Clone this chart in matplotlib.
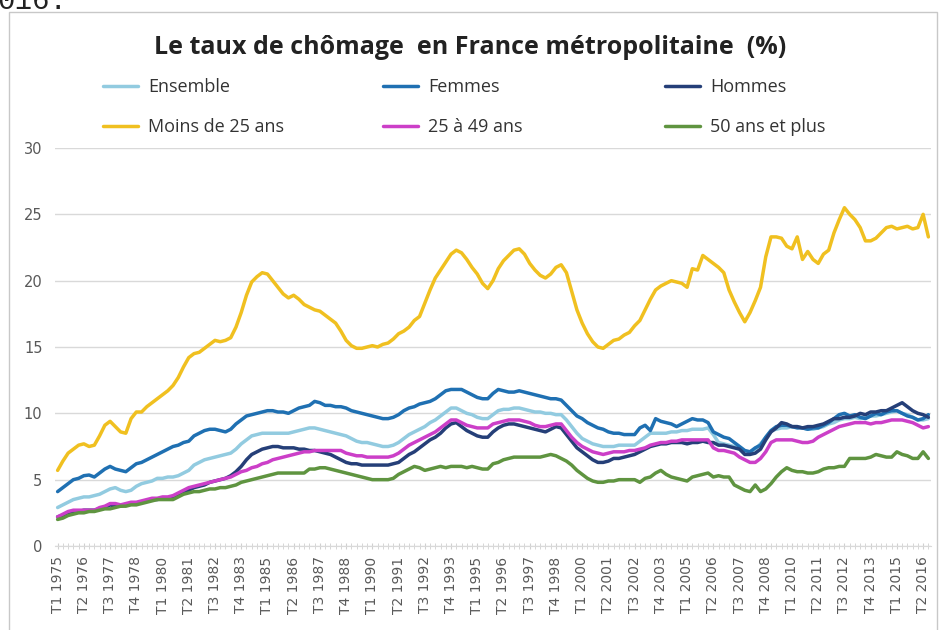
import matplotlib
matplotlib.use("Agg")
import matplotlib.pyplot as plt
from matplotlib.patches import Rectangle

# quarterly unemployment rates (%), T1 1975 .. T3 2016
ensemble = [
    2.9, 3.1, 3.3, 3.5, 3.6, 3.7, 3.7, 3.8, 3.9, 4.1,
    4.3, 4.4, 4.2, 4.1, 4.2, 4.5, 4.7, 4.8, 4.9, 5.1,
    5.1, 5.2, 5.2, 5.3, 5.5, 5.7, 6.1, 6.3, 6.5, 6.6,
    6.7, 6.8, 6.9, 7.0, 7.3, 7.7, 8.0, 8.3, 8.4, 8.5,
    8.5, 8.5, 8.5, 8.5, 8.5, 8.6, 8.7, 8.8, 8.9, 8.9,
    8.8, 8.7, 8.6, 8.5, 8.4, 8.3, 8.1, 7.9, 7.8, 7.8,
    7.7, 7.6, 7.5, 7.5, 7.6, 7.8, 8.1, 8.4, 8.6, 8.8,
    9.0, 9.3, 9.5, 9.8, 10.1, 10.4, 10.4, 10.2, 10.0, 9.9,
    9.7, 9.6, 9.6, 9.9, 10.2, 10.3, 10.3, 10.4, 10.4, 10.3,
    10.2, 10.1, 10.1, 10.0, 10.0, 9.9, 9.9, 9.5, 9.0, 8.5,
    8.1, 7.9, 7.7, 7.6, 7.5, 7.5, 7.5, 7.6, 7.6, 7.6,
    7.6, 7.9, 8.2, 8.5, 8.5, 8.5, 8.5, 8.6, 8.6, 8.7,
    8.7, 8.8, 8.8, 8.8, 8.9, 8.4, 7.8, 7.7, 7.6, 7.5,
    7.3, 7.0, 7.1, 7.3, 7.7, 8.2, 8.7, 8.8, 8.9, 8.9,
    9.0, 9.0, 8.9, 8.8, 8.8, 8.9, 9.0, 9.2, 9.3, 9.5,
    9.6, 9.6, 9.7, 9.6, 9.7, 9.8, 9.8, 9.9, 10.0, 10.1,
    10.2, 10.0, 9.9, 9.7, 9.5, 9.5, 9.6]

femmes = [
    4.1, 4.4, 4.7, 5.0, 5.1, 5.3, 5.35, 5.2, 5.5, 5.8,
    6.0, 5.8, 5.7, 5.6, 5.9, 6.2, 6.3, 6.5, 6.7, 6.9,
    7.1, 7.3, 7.5, 7.6, 7.8, 7.9, 8.3, 8.5, 8.7, 8.8,
    8.8, 8.7, 8.6, 8.8, 9.2, 9.5, 9.8, 9.9, 10.0, 10.1,
    10.2, 10.2, 10.1, 10.1, 10.0, 10.2, 10.4, 10.5, 10.6, 10.9,
    10.8, 10.6, 10.6, 10.5, 10.5, 10.4, 10.2, 10.1, 10.0, 9.9,
    9.8, 9.7, 9.6, 9.6, 9.7, 9.9, 10.2, 10.4, 10.5, 10.7,
    10.8, 10.9, 11.1, 11.4, 11.7, 11.8, 11.8, 11.8, 11.6, 11.4,
    11.2, 11.1, 11.1, 11.5, 11.8, 11.7, 11.6, 11.6, 11.7, 11.6,
    11.5, 11.4, 11.3, 11.2, 11.1, 11.1, 11.0, 10.6, 10.2, 9.8,
    9.6, 9.3, 9.1, 8.9, 8.8, 8.6, 8.5, 8.5, 8.4, 8.4,
    8.4, 8.9, 9.1, 8.7, 9.6, 9.4, 9.3, 9.2, 9.0, 9.2,
    9.4, 9.6, 9.5, 9.5, 9.3, 8.6, 8.4, 8.2, 8.1, 7.8,
    7.5, 7.2, 7.1, 7.4, 7.6, 8.2, 8.7, 9.0, 9.1, 9.1,
    9.0, 8.9, 8.9, 8.8, 8.9, 8.9, 9.1, 9.3, 9.6, 9.9,
    10.0, 9.8, 9.9, 9.7, 9.6, 9.8, 10.0, 9.9, 10.1, 10.2,
    10.2, 10.0, 9.8, 9.7, 9.5, 9.6, 9.9]

hommes = [
    2.2, 2.3, 2.5, 2.6, 2.6, 2.7, 2.7, 2.7, 2.8, 2.9,
    3.1, 3.0, 3.0, 3.1, 3.2, 3.2, 3.3, 3.4, 3.5, 3.5,
    3.6, 3.6, 3.7, 3.9, 4.1, 4.2, 4.4, 4.5, 4.6, 4.8,
    4.9, 5.0, 5.1, 5.3, 5.6, 6.0, 6.5, 6.9, 7.1, 7.3,
    7.4, 7.5, 7.5, 7.4, 7.4, 7.4, 7.3, 7.3, 7.2, 7.2,
    7.1, 7.0, 6.9, 6.7, 6.5, 6.3, 6.2, 6.2, 6.1, 6.1,
    6.1, 6.1, 6.1, 6.1, 6.2, 6.3, 6.6, 6.9, 7.1, 7.4,
    7.7, 8.0, 8.2, 8.5, 8.9, 9.2, 9.3, 9.0, 8.7, 8.5,
    8.3, 8.2, 8.2, 8.6, 8.9, 9.1, 9.2, 9.2, 9.1, 9.0,
    8.9, 8.8, 8.7, 8.6, 8.8, 9.0, 8.9, 8.4, 7.9, 7.4,
    7.1, 6.8, 6.5, 6.3, 6.3, 6.4, 6.6, 6.6, 6.7, 6.8,
    6.9, 7.1, 7.3, 7.5, 7.6, 7.7, 7.7, 7.8, 7.8, 7.8,
    7.7, 7.8, 7.8, 7.9, 7.8, 7.8, 7.6, 7.6, 7.5, 7.4,
    7.3, 6.9, 6.9, 7.0, 7.3, 8.0, 8.6, 8.9, 9.3, 9.2,
    9.0, 9.0, 8.9, 9.0, 9.0, 9.1, 9.2, 9.4, 9.6, 9.6,
    9.7, 9.7, 9.8, 10.0, 9.9, 10.1, 10.1, 10.2, 10.2, 10.4,
    10.6, 10.8, 10.5, 10.2, 10.0, 9.9, 9.7]

moins25 = [
    5.7, 6.4, 7.0, 7.3, 7.6, 7.7, 7.5, 7.6, 8.3, 9.1,
    9.4, 9.0, 8.6, 8.5, 9.6, 10.1, 10.1, 10.5, 10.8, 11.1,
    11.4, 11.7, 12.1, 12.7, 13.5, 14.2, 14.5, 14.6, 14.9, 15.2,
    15.5, 15.4, 15.5, 15.7, 16.5, 17.6, 18.9, 19.9, 20.3, 20.6,
    20.5, 20.0, 19.5, 19.0, 18.7, 18.9, 18.6, 18.2, 18.0, 17.8,
    17.7, 17.4, 17.1, 16.8, 16.2, 15.5, 15.1, 14.9, 14.9, 15.0,
    15.1, 15.0, 15.2, 15.3, 15.6, 16.0, 16.2, 16.5, 17.0, 17.3,
    18.3, 19.3, 20.2, 20.8, 21.4, 22.0, 22.3, 22.1, 21.6, 21.0,
    20.5, 19.8, 19.4, 20.0, 20.9, 21.5, 21.9, 22.3, 22.4, 22.0,
    21.3, 20.8, 20.4, 20.2, 20.5, 21.0, 21.2, 20.6, 19.2, 17.8,
    16.8, 16.0, 15.4, 15.0, 14.9, 15.2, 15.5, 15.6, 15.9, 16.1,
    16.6, 17.0, 17.8, 18.6, 19.3, 19.6, 19.8, 20.0, 19.9, 19.8,
    19.5, 20.9, 20.8, 21.9, 21.6, 21.3, 21.0, 20.6, 19.3, 18.4,
    17.6, 16.9, 17.6, 18.5, 19.5, 21.8, 23.3, 23.3, 23.2, 22.6,
    22.4, 23.3, 21.6, 22.2, 21.6, 21.3, 22.0, 22.3, 23.6, 24.6,
    25.5, 25.0, 24.6, 24.0, 23.0, 23.0, 23.2, 23.6, 24.0, 24.1,
    23.9, 24.0, 24.1, 23.9, 24.0, 25.0, 23.3]

age25_49 = [
    2.2, 2.4, 2.6, 2.7, 2.7, 2.7, 2.7, 2.7, 2.9, 3.0,
    3.2, 3.2, 3.1, 3.2, 3.3, 3.3, 3.4, 3.5, 3.6, 3.6,
    3.7, 3.7, 3.8, 4.0, 4.2, 4.4, 4.5, 4.6, 4.7, 4.8,
    4.9, 5.0, 5.1, 5.2, 5.4, 5.6, 5.7, 5.9, 6.0, 6.2,
    6.3, 6.5, 6.6, 6.7, 6.8, 6.9, 7.0, 7.1, 7.1, 7.2,
    7.2, 7.2, 7.2, 7.2, 7.2, 7.0, 6.9, 6.8, 6.8, 6.7,
    6.7, 6.7, 6.7, 6.7, 6.8, 7.0, 7.3, 7.6, 7.8, 8.0,
    8.2, 8.4, 8.6, 8.9, 9.2, 9.5, 9.5, 9.3, 9.1, 9.0,
    8.9, 8.9, 8.9, 9.2, 9.3, 9.4, 9.5, 9.5, 9.5, 9.4,
    9.3, 9.1, 9.0, 9.0, 9.1, 9.2, 9.2, 8.7, 8.2, 7.8,
    7.5, 7.3, 7.1, 7.0, 6.9, 7.0, 7.1, 7.1, 7.1, 7.2,
    7.2, 7.3, 7.4, 7.6, 7.7, 7.8, 7.8, 7.9, 7.9, 8.0,
    8.0, 8.0, 8.0, 8.0, 8.0, 7.4, 7.2, 7.2, 7.1, 7.0,
    6.7, 6.5, 6.3, 6.3, 6.6, 7.1, 7.8, 8.0, 8.0, 8.0,
    8.0, 7.9, 7.8, 7.8, 7.9, 8.2, 8.4, 8.6, 8.8, 9.0,
    9.1, 9.2, 9.3, 9.3, 9.3, 9.2, 9.3, 9.3, 9.4, 9.5,
    9.5, 9.5, 9.4, 9.3, 9.1, 8.9, 9.0]

plus50 = [
    2.0, 2.1, 2.3, 2.4, 2.5, 2.5, 2.6, 2.6, 2.7, 2.8,
    2.8, 2.9, 3.0, 3.0, 3.1, 3.1, 3.2, 3.3, 3.4, 3.5,
    3.5, 3.5, 3.5, 3.7, 3.9, 4.0, 4.1, 4.1, 4.2, 4.3,
    4.3, 4.4, 4.4, 4.5, 4.6, 4.8, 4.9, 5.0, 5.1, 5.2,
    5.3, 5.4, 5.5, 5.5, 5.5, 5.5, 5.5, 5.5, 5.8, 5.8,
    5.9, 5.9, 5.8, 5.7, 5.6, 5.5, 5.4, 5.3, 5.2, 5.1,
    5.0, 5.0, 5.0, 5.0, 5.1, 5.4, 5.6, 5.8, 6.0, 5.9,
    5.7, 5.8, 5.9, 6.0, 5.9, 6.0, 6.0, 6.0, 5.9, 6.0,
    5.9, 5.8, 5.8, 6.2, 6.3, 6.5, 6.6, 6.7, 6.7, 6.7,
    6.7, 6.7, 6.7, 6.8, 6.9, 6.8, 6.6, 6.4, 6.1, 5.7,
    5.4, 5.1, 4.9, 4.8, 4.8, 4.9, 4.9, 5.0, 5.0, 5.0,
    5.0, 4.8, 5.1, 5.2, 5.5, 5.7, 5.4, 5.2, 5.1, 5.0,
    4.9, 5.2, 5.3, 5.4, 5.5, 5.2, 5.3, 5.2, 5.2, 4.6,
    4.4, 4.2, 4.1, 4.6, 4.1, 4.3, 4.7, 5.2, 5.6, 5.9,
    5.7, 5.6, 5.6, 5.5, 5.5, 5.6, 5.8, 5.9, 5.9, 6.0,
    6.0, 6.6, 6.6, 6.6, 6.6, 6.7, 6.9, 6.8, 6.7, 6.7,
    7.1, 6.9, 6.8, 6.6, 6.6, 7.1, 6.6]

tick_labels = ["T1 1975", "T2 1976", "T3 1977", "T4 1978", "T1 1980", "T2 1981",
               "T3 1982", "T4 1983", "T1 1985", "T2 1986", "T3 1987", "T4 1988",
               "T1 1990", "T2 1991", "T3 1992", "T4 1993", "T1 1995", "T2 1996",
               "T3 1997", "T4 1998", "T1 2000", "T2 2001", "T3 2002", "T4 2003",
               "T1 2005", "T2 2006", "T3 2007", "T4 2008", "T1 2010", "T2 2011",
               "T3 2012", "T4 2013", "T1 2015", "T2 2016"]

series = [("Ensemble", ensemble, "#92cbe0"),
          ("Femmes", femmes, "#1f70b2"),
          ("Hommes", hommes, "#253f78"),
          ("Moins de 25 ans", moins25, "#f0c020"),
          ("25 à 49 ans", age25_49, "#cc3fc8"),
          ("50 ans et plus", plus50, "#5f9440")]

W, H = 940, 630
fig = plt.figure(figsize=(W / 100, H / 100), dpi=100)
fig.patch.set_facecolor("white")

# frame of the chart box
fig.patches.append(Rectangle((9 / W, -0.02), 928 / W, 1 - 12 / H + 0.02,
                             transform=fig.transFigure, fill=False,
                             edgecolor="#c8c8c8", lw=1))
# bit of text from the page above the chart (cut off at the top, as in the screenshot)
fig.text(-0.003, 1 - 9 / H, "016.", family="Liberation Mono", fontsize=21,
         color="#222222", va="baseline", ha="left")

ax = fig.add_axes([55 / W, (H - 546) / H, 876 / W, 398 / H])

x = list(range(len(ensemble)))
handles = {}
for name, vals, col in series:
    h, = ax.plot(x, vals, color=col, lw=2.5, label=name, solid_capstyle="round")
    handles[name] = h

ax.set_xlim(-0.5, len(ensemble) - 0.5)
ax.set_ylim(0, 30)
ax.set_yticks([0, 5, 10, 15, 20, 25, 30])
ax.grid(axis="y", color="#d9d9d9", lw=1)
ax.set_axisbelow(True)
for s in ["top", "right", "left"]:
    ax.spines[s].set_visible(False)
ax.spines["bottom"].set_color("#d9d9d9")

ax.set_xticks(range(len(ensemble)), minor=True)
ax.set_xticks(range(0, len(ensemble), 5))
ax.set_xticklabels(tick_labels, rotation=90, fontsize=10, color="#595959",
                   family="DejaVu Sans")
ax.tick_params(axis="x", which="both", direction="inout", length=5,
               color="#d0d0d0", pad=5)
ax.tick_params(axis="y", length=0, labelsize=10.5, labelcolor="#595959", pad=9)

fig.text(0.5, 1 - 47 / H, "Le taux de chômage  en France métropolitaine  (%)",
         ha="center", va="center", fontsize=18, fontweight="bold",
         family="Open Sans", color="#222222")

cols = [(103, ["Ensemble", "Moins de 25 ans"]),
        (383, ["Femmes", "25 à 49 ans"]),
        (665, ["Hommes", "50 ans et plus"])]
for xpx, names in cols:
    leg = fig.legend([handles[n] for n in names], names, loc="upper left",
                     bbox_to_anchor=(xpx / W, 1 - 78 / H), frameon=False,
                     prop={"family": "Open Sans", "size": 13},
                     handlelength=1.95, handletextpad=0.55, labelspacing=1.22,
                     borderpad=0, borderaxespad=0)
    for t in leg.get_texts():
        t.set_color("#333333")

fig.savefig("out.png", dpi=100)
